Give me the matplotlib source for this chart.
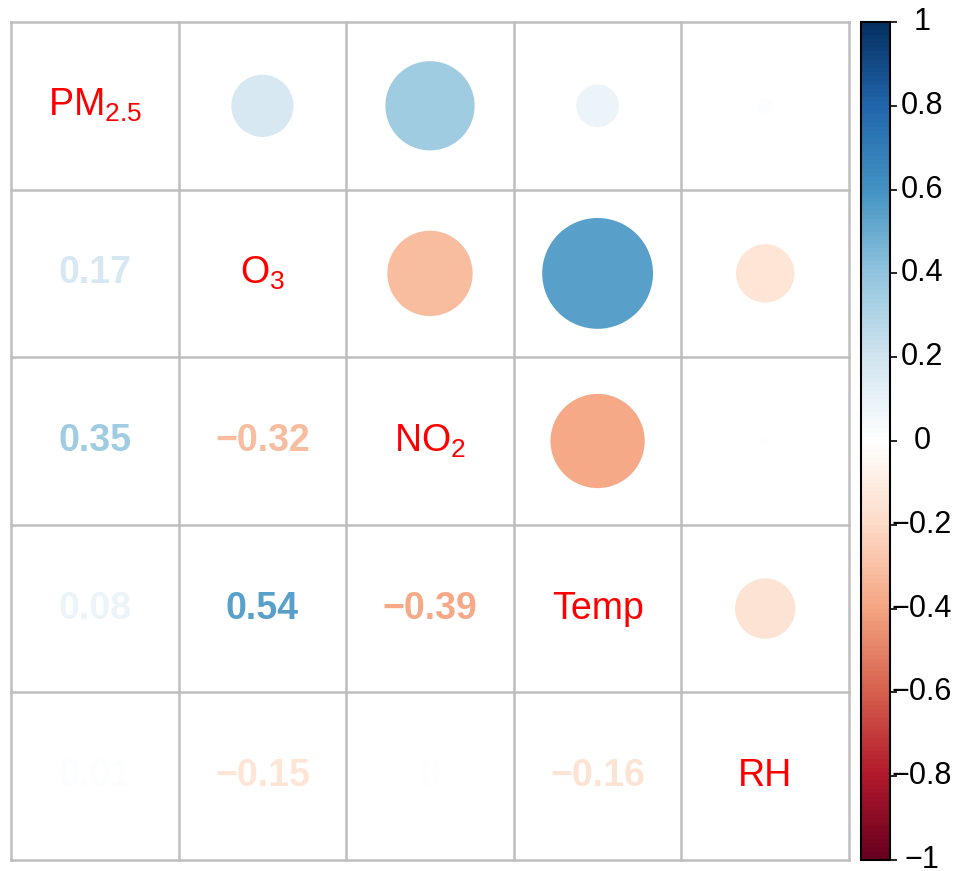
import numpy as np
import matplotlib
matplotlib.use('Agg')
import matplotlib.pyplot as plt
from matplotlib.colors import LinearSegmentedColormap, Normalize
from matplotlib.patches import Circle
from matplotlib.colorbar import ColorbarBase

plt.rcParams['font.family'] = ['Liberation Sans', 'DejaVu Sans']
plt.rcParams['mathtext.fontset'] = 'custom'
plt.rcParams['mathtext.rm'] = 'Liberation Sans'
plt.rcParams['mathtext.it'] = 'Liberation Sans'
plt.rcParams['mathtext.default'] = 'rm'

# variables and correlation matrix
labels = [r'PM$_{2.5}$', r'O$_3$', r'NO$_2$', 'Temp', 'RH']
corr = np.array([
    [1.00,  0.17,  0.35,  0.08,  0.01],
    [0.17,  1.00, -0.32,  0.54, -0.15],
    [0.35, -0.32,  1.00, -0.39, -0.003],
    [0.08,  0.54, -0.39,  1.00, -0.16],
    [0.01, -0.15, -0.003, -0.16, 1.00],
])
cbar_ticks = [-1, -0.8, -0.6, -0.4, -0.2, 0, 0.2, 0.4, 0.6, 0.8, 1]

# corrplot COL2('RdBu')
cmap = LinearSegmentedColormap.from_list('RdBu2', [
    '#67001F', '#B2182B', '#D6604D', '#F4A582', '#FDDBC7', '#FFFFFF',
    '#D1E5F0', '#92C5DE', '#4393C3', '#2166AC', '#053061'], N=200)
norm = Normalize(-1, 1)

W, H = 960, 871
fig = plt.figure(figsize=(W / 100, H / 100), dpi=100)

# main grid
x0, x1, y0, y1 = 11, 849, 22, 860
ax = fig.add_axes([x0 / W, 1 - y1 / H, (x1 - x0) / W, (y1 - y0) / H])
n = len(labels)
ax.set_xlim(0, n)
ax.set_ylim(n, 0)
ax.axis('off')

for i in range(n + 1):
    ax.plot([0, n], [i, i], color='#BEBEBE', lw=1.8, zorder=1, clip_on=False)
    ax.plot([i, i], [0, n], color='#BEBEBE', lw=1.8, zorder=1, clip_on=False)

for i in range(n):
    for j in range(n):
        r = corr[i, j]
        cx, cy = j + 0.5, i + 0.5
        if i == j:
            ax.text(cx, cy, labels[i], color='red', fontsize=27,
                    ha='center', va='center')
        elif i > j:
            if abs(r) >= 0.005:
                txt = f'{abs(r):.2f}'
                if r < 0:
                    txt = '\u2212' + txt
            else:
                txt = '0'
            ax.text(cx, cy, txt, color=cmap(norm(r)), fontsize=27,
                    fontweight='bold', ha='center', va='center')
        else:
            rad = 0.45 * np.sqrt(abs(r))
            ax.add_patch(Circle((cx, cy), rad, color=cmap(norm(r)), lw=0, zorder=2))

# colour bar
cx0, cx1 = 861, 890
cax = fig.add_axes([cx0 / W, 1 - y1 / H, (cx1 - cx0) / W, (y1 - y0) / H])
cb = ColorbarBase(cax, cmap=cmap, norm=norm, orientation='vertical', ticks=cbar_ticks)
cb.outline.set_linewidth(1.5)
cax.yaxis.set_ticks_position('right')
cax.tick_params(axis='y', length=5, width=1.2, pad=0, labelsize=22)
cax.set_yticklabels([])
for t in cbar_ticks:
    lab = f'{abs(t):g}'
    if t < 0:
        lab = '\u2212' + lab
    cax.text(1.0 + 32 / (cx1 - cx0), t, lab, transform=cax.get_yaxis_transform(),
             ha='center', va='center', fontsize=22)

fig.savefig('out.png', dpi=100)
